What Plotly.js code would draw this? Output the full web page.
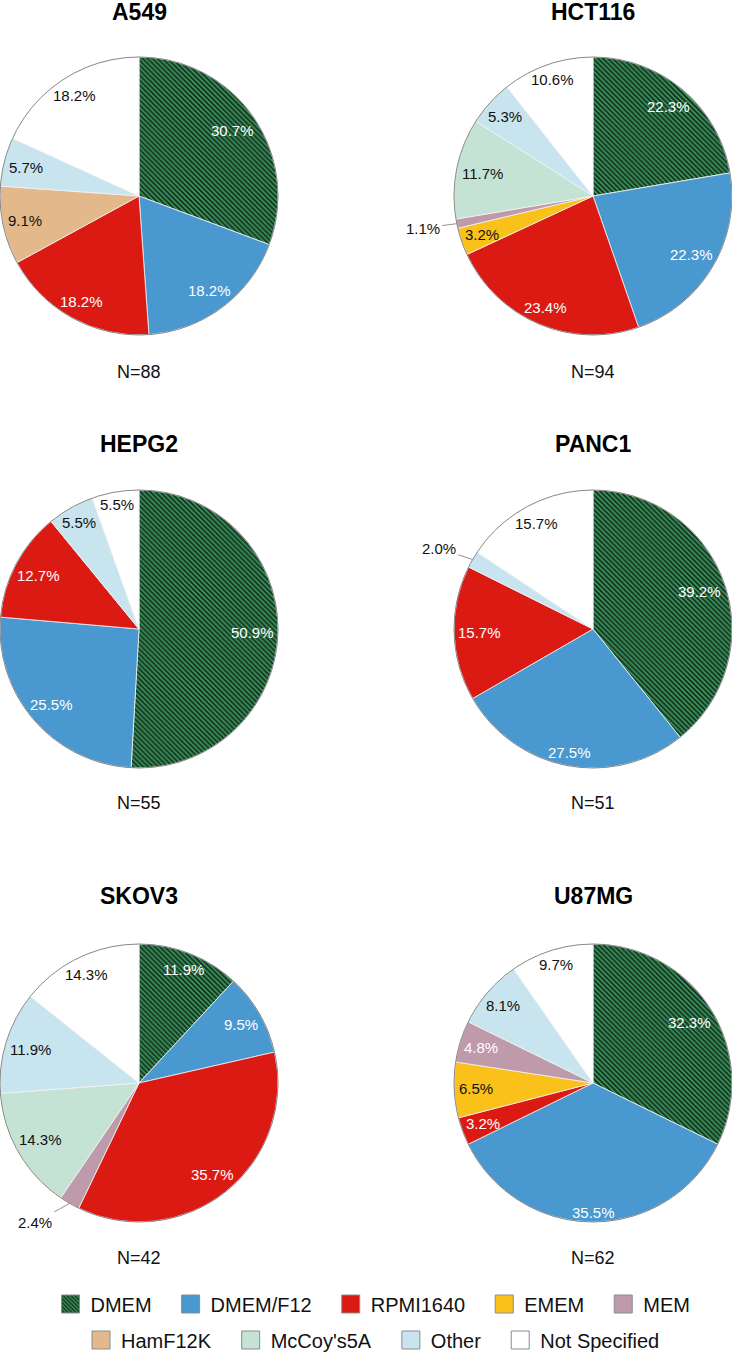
<!DOCTYPE html>
<html>
<head>
<meta charset="utf-8">
<script src="https://cdn.plot.ly/plotly-3.0.1.min.js"></script>
<style>
  html, body { margin: 0; padding: 0; background: #ffffff; }
  #chart { width: 732px; height: 1352px; }
</style>
</head>
<body>
<div id="chart"></div>
<script>
// Categories (culture media), in slice order (clockwise from 12 o'clock)
const labels = ['DMEM', 'DMEM/F12', 'RPMI1640', 'EMEM', 'MEM', 'HamF12K', "McCoy's5A", 'Other', 'Not Specified'];
const legendRow = [1, 1, 1, 1, 1, 2, 2, 2, 2];

// Counts per cell line (percentages in the chart = count / N)
const cellLines = ['A549', 'HCT116', 'HEPG2', 'PANC1', 'SKOV3', 'U87MG'];
const a549   = [27, 16, 16, 0, 0, 8, 0, 5, 16];   // N=88
const hct116 = [21, 21, 22, 3, 1, 0, 11, 5, 10];  // N=94
const hepg2  = [28, 14, 7, 0, 0, 0, 0, 3, 3];     // N=55
const panc1  = [20, 14, 8, 0, 0, 0, 0, 1, 8];     // N=51
const skov3  = [5, 4, 15, 0, 1, 0, 6, 5, 6];      // N=42
const u87mg  = [20, 22, 2, 4, 3, 0, 0, 5, 6];     // N=62
const seriesValues = [a549, hct116, hepg2, panc1, skov3, u87mg];

// Styling
const sliceColors = ['#3a955c', '#4a98d0', '#dc1a14', '#fbc11b', '#be9aab', '#e3b98b', '#c4e3d4', '#c8e5ef', '#ffffff'];
const textColors  = ['#ffffff', '#ffffff', '#ffffff', '#111111', '#ffffff', '#111111', '#111111', '#111111', '#111111'];
const patternShapes = ['\\', '', '', '', '', '', '', '', ''];
const PATTERN = { fgcolor: '#132c1c', bgcolor: '#3a955c', size: 3.5, solidity: 0.48, fillmode: 'replace' };
const FONT = 'Liberation Sans, Arial, Helvetica, sans-serif';
const LABEL_SIZE = 15;

// Layout grid (pixel geometry of the page)
const W = 732, H = 1352;
const colX = [[0, 278], [454, 732]];
const rowY = [[57, 335], [490, 768], [944, 1222]];
const titleY = [12.5, 444, 896];
const nY = [372, 803, 1258];

const traces = [];
const annotations = [];
const shapes = [];
const px2x = px => px / W;
const px2y = py => 1 - py / H;

function textHalfWidth(str) {
  // approx Arial advance widths at LABEL_SIZE
  let w = 0;
  for (const ch of str) w += (ch === '%') ? 0.889 : (ch === '.' ? 0.278 : 0.556);
  return w * LABEL_SIZE / 2;
}

seriesValues.forEach((vals, k) => {
  const col = k % 2, row = Math.floor(k / 2);
  const total = vals.reduce((a, b) => a + b, 0);
  const x0 = colX[col][0], x1 = colX[col][1], y0 = rowY[row][0], y1 = rowY[row][1];
  traces.push({
    type: 'pie',
    name: cellLines[k],
    labels: labels,
    values: vals,
    sort: false,
    direction: 'clockwise',
    rotation: 0,
    domain: { x: [px2x(x0), px2x(x1)], y: [px2y(y1), px2y(y0)] },
    textinfo: 'none',
    marker: {
      colors: sliceColors,
      line: { color: '#f2f2f2', width: vals.map(v => v > 0 ? 0.8 : 0) },
      pattern: Object.assign({ shape: patternShapes }, PATTERN)
    },
    hoverinfo: 'label+percent',
    showlegend: false
  });

  const cx = (x0 + x1) / 2, cy = (y0 + y1) / 2;
  const r = Math.min(x1 - x0, y1 - y0) / 2;

  // grey rim around each pie
  shapes.push({
    type: 'circle', xref: 'paper', yref: 'paper',
    x0: px2x(cx - r), x1: px2x(cx + r), y0: px2y(cy + r), y1: px2y(cy - r),
    line: { color: '#8a8a8a', width: 1 }
  });

  // percentage labels, placed along each slice bisector near the rim
  let cum = 0;
  vals.forEach((v, i) => {
    if (v <= 0) return;
    const frac = v / total;
    const mid = (cum + v / 2) / total * 2 * Math.PI;
    cum += v;
    const s = Math.sin(mid), c = Math.cos(mid);
    const txt = (frac * 100).toFixed(1) + '%';
    if (frac < 0.025) {
      annotations.push({
        text: txt,
        x: px2x(cx + s * r), y: px2y(cy - c * r),
        xref: 'paper', yref: 'paper',
        showarrow: true, arrowhead: 0, arrowwidth: 0.8, arrowcolor: '#777777',
        standoff: 0, startstandoff: 1,
        ax: (s < 0 ? -1 : 1) * 34, ay: -c * 22,
        font: { family: FONT, size: LABEL_SIZE, color: '#111111' }
      });
    } else {
      const hw = textHalfWidth(txt), hh = 5.5;
      const d = r - 4 - (hw * Math.abs(s) + hh * Math.abs(c));
      annotations.push({
        text: txt,
        x: px2x(cx + s * d), y: px2y(cy - c * d),
        xref: 'paper', yref: 'paper', xanchor: 'center', yanchor: 'middle',
        showarrow: false,
        font: { family: FONT, size: LABEL_SIZE, color: textColors[i] }
      });
    }
  });

  annotations.push({
    text: '<b>' + cellLines[k] + '</b>',
    x: px2x(cx), y: px2y(titleY[row]),
    xref: 'paper', yref: 'paper', xanchor: 'center', yanchor: 'middle',
    showarrow: false,
    font: { family: FONT, size: 23, color: '#000000' }
  });
  annotations.push({
    text: 'N=' + total,
    x: px2x(cx), y: px2y(nY[row]),
    xref: 'paper', yref: 'paper', xanchor: 'center', yanchor: 'middle',
    showarrow: false,
    font: { family: FONT, size: 18, color: '#111111' }
  });
});

// legend entries (one per medium), split over two centred rows
labels.forEach((lab, i) => {
  traces.push({
    type: 'bar',
    x: [null], y: [null],
    name: lab,
    legend: legendRow[i] === 1 ? 'legend' : 'legend2',
    marker: {
      color: sliceColors[i],
      line: { color: '#8c8c8c', width: 1 },
      pattern: Object.assign({ shape: patternShapes[i] }, PATTERN)
    },
    hoverinfo: 'skip',
    showlegend: true
  });
});

const legendBase = {
  orientation: 'h',
  x: 0.5, xanchor: 'center', yanchor: 'middle',
  font: { family: FONT, size: 20, color: '#111111' },
  bgcolor: 'rgba(0,0,0,0)',
  traceorder: 'normal',
  itemwidth: 44
};

const layout = {
  width: W, height: H,
  margin: { l: 0, r: 0, t: 0, b: 0, autoexpand: false },
  paper_bgcolor: '#ffffff',
  plot_bgcolor: '#ffffff',
  font: { family: FONT, color: '#111111' },
  showlegend: true,
  xaxis: { visible: false },
  yaxis: { visible: false },
  legend: Object.assign({}, legendBase, { y: px2y(1304) }),
  legend2: Object.assign({}, legendBase, { y: px2y(1340) }),
  shapes: shapes,
  annotations: annotations
};

Plotly.newPlot('chart', traces, layout, { displayModeBar: false, staticPlot: true }).then(() => {
  // enlarge the legend swatches and sit them closer to their labels
  document.querySelectorAll('.legendpoints path').forEach(p => {
    const b = p.getBBox();
    if (!b.width) return;
    const mx = b.x + b.width / 2 + 7, my = b.y + b.height / 2, h = 9;
    p.setAttribute('d', `M${mx + h},${my + h}H${mx - h}V${my - h}H${mx + h}Z`);
  });
});
</script>
</body>
</html>
